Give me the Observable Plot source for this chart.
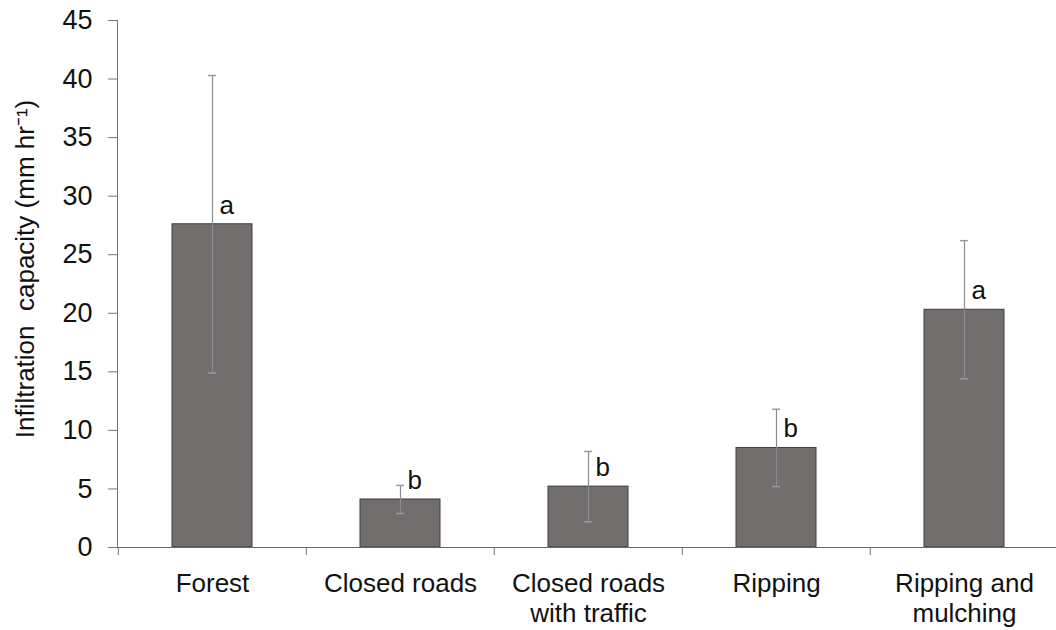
<!DOCTYPE html>
<html>
<head>
<meta charset="utf-8">
<script src="https://cdn.jsdelivr.net/npm/d3@7"></script>
<script src="https://cdn.jsdelivr.net/npm/@observablehq/plot@0.6"></script>
<style>
  html, body { margin: 0; padding: 0; background: #fff; }
  svg { display: block; }
</style>
</head>
<body>
<div id="chart"></div>
<script>
// Data
const categories = ["Forest", "Closed roads", "Closed roads\nwith traffic", "Ripping", "Ripping and\nmulching"];
const means = [27.6, 4.1, 5.2, 8.5, 20.3];
const errors = [12.7, 1.2, 3.0, 3.3, 5.9];
const letters = ["a", "b", "b", "b", "a"];
const yTicks = [0, 5, 10, 15, 20, 25, 30, 35, 40, 45];
const yLabel = "Infiltration  capacity (mm hr\u207B\u00B9)";

const data = categories.map((c, i) => ({
  cat: c, mean: means[i], lo: means[i] - errors[i], hi: means[i] + errors[i], letter: letters[i]
}));

const W = 1056, H = 630;
const mL = 117, mT = 20, mB = 83;
const xRange = [117, 1059];
const step = (xRange[1] - xRange[0]) / categories.length;
const tickLenUnits = 8 * 45 / (H - mT - mB);
const font = "Liberation Sans, Arial, Helvetica, sans-serif";

const chart = Plot.plot({
  width: W,
  height: H,
  marginLeft: mL,
  marginTop: mT,
  marginBottom: mB,
  marginRight: 0,
  style: { fontFamily: font, color: "#111", background: "#fff" },
  x: { domain: categories, range: xRange, paddingInner: 0.575, paddingOuter: 0.2875, axis: null, label: null },
  y: { domain: [0, 45], axis: null, label: null },
  marks: [
    Plot.barY(data, { x: "cat", y: "mean", fill: "#726e6d", stroke: "#3e3e3e", strokeWidth: 1 }),
    Plot.ruleX(data, { x: "cat", y1: "lo", y2: "hi", stroke: "#8c8c8c", strokeWidth: 1.2 }),
    Plot.tickY(data, { x: "cat", y: "hi", stroke: "#9a9a9a", strokeWidth: 1.5, insetLeft: 36, insetRight: 36 }),
    Plot.tickY(data, { x: "cat", y: "lo", stroke: "#9a9a9a", strokeWidth: 1.5, insetLeft: 36, insetRight: 36 }),
    Plot.text(data, { x: "cat", y: "mean", text: "letter", textAnchor: "start", dx: 7, dy: -19, fontSize: 26, fill: "#111" }),
    // y axis
    Plot.frame({ anchor: "left", stroke: "#777" }),
    Plot.axisY({ ticks: yTicks, tickSize: 9, tickPadding: 16, fontSize: 27, stroke: "#777", fill: "#111", label: null, tickFormat: d => String(d) }),
    // x axis line and boundary ticks
    Plot.ruleY([0], { stroke: "#666", strokeWidth: 1.2 }),
    Plot.ruleX(categories, { x: d => d, y1: 0, y2: -tickLenUnits, dx: -step / 2, stroke: "#777" }),
    Plot.axisX({ tickSize: 0, tickPadding: 23, fontSize: 26, lineHeight: 1.15, fill: "#111", label: null }),
    // y label
    Plot.text([yLabel], { frameAnchor: "left", textAnchor: "middle", rotate: -90, dx: -92, dy: -15, fontSize: 26, fill: "#111" })
  ]
});
document.getElementById("chart").appendChild(chart);
</script>
</body>
</html>
